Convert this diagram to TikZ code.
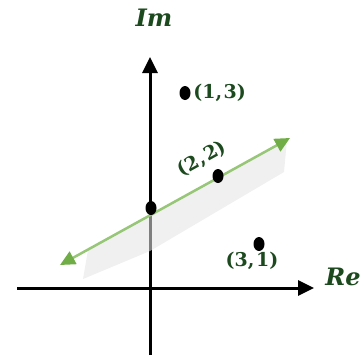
\documentclass[tikz,border=0pt]{standalone}
\usepackage{fontspec}
\newfontfamily\labelfont{DejaVu Serif}
\usetikzlibrary{arrows.meta, positioning, shapes.geometric}
\definecolor{labelgreen}{RGB}{28,74,30}
\definecolor{linegreen}{RGB}{112,173,71}
\definecolor{lightgreen}{RGB}{150,198,118}
\definecolor{bandgray}{RGB}{228,228,228}

\begin{document}
\begin{tikzpicture}[x=1pt, y=-1pt, node distance=2pt,
  axis/.style={line width=3pt, -{Triangle[width=15pt,length=16pt]}},
  fitline/.style={line width=2.5pt, lightgreen, {Triangle[width=14pt,length=15pt,color=linegreen]}-{Triangle[width=14pt,length=15pt,color=linegreen]}},
  bandfill/.style={fill=bandgray, fill opacity=0.56},
  cpoint/.style={ellipse, fill=black, inner sep=0pt, minimum width=11pt, minimum height=14pt},
  lbl/.style={text=labelgreen, inner sep=0.5pt, font=\labelfont\fontsize{19}{23}\selectfont\bfseries},
  axlbl/.style={text=labelgreen, inner sep=1pt, font=\labelfont\fontsize{24}{28}\selectfont\bfseries\itshape}]
\useasboundingbox (0,0) rectangle (363,360);

% axes
\coordinate (xl) at (17,288);
\coordinate (xr) at (314,288);
\coordinate (yb) at (150,355);
\coordinate (yt) at (150,57);
\draw [axis] (xl) -- (xr);
\draw [axis] (yb) -- (yt);
\node (im) [axlbl] at (154,18) {Im};
\node (re) [axlbl] at (343,277) {Re};

% band under the line
\fill [bandfill] (88,250) -- (287,140) -- (284,172) -- (150,251) -- (83,279) -- cycle;

% fitted line
\coordinate (gl) at (60,265);
\coordinate (gr) at (290,138);
\draw [fitline] (gl) -- (gr);

% points
\node (p13) [cpoint] at (185,93) {};
\node (p22) [cpoint] at (218,176) {};
\node (p31) [cpoint] at (259,244) {};
\node (p0) [cpoint] at (151,208) {};
\node (l13) [lbl, right = of p13] {(1,\kern1.5pt3)};
\node (l31) [lbl, below = 0pt of p31, xshift=-7pt] {(3,\kern1.5pt1)};
\node (l22) [lbl, rotate=29] at (202,159) {(2,\kern1.5pt2)};
\end{tikzpicture}
\end{document}
